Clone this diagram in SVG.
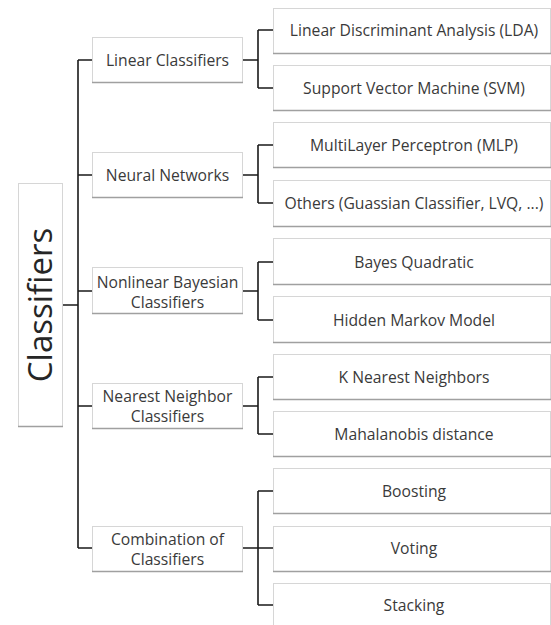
<svg xmlns="http://www.w3.org/2000/svg" width="551" height="625" viewBox="0 0 551 625">
<style>
.box{fill:#fff;stroke:#d6d6d6;stroke-width:1}
.sh{stroke:#a0a0a0;stroke-width:1.6}
.t{font-family:"Open Sans","Noto Sans",sans-serif;font-size:15.7px;fill:#3a3a3a;text-anchor:middle}
.root{font-family:"Open Sans","Noto Sans",sans-serif;font-size:33px;fill:#262626;text-anchor:middle}
.c{fill:none;stroke:#1a1a1a;stroke-width:1.6}
</style>
<rect width="551" height="625" fill="#fff"/>
<g id="connectors">
<path class="c" d="M63 305H78M78 60V548M78 60H92M78 175H92M78 291H92M78 406H92M78 548H92"/>
<path class="c" d="M243 60H258M258 30V88M258 30H273M258 88H273"/>
<path class="c" d="M243 175H258M258 145V203M258 145H273M258 203H273"/>
<path class="c" d="M243 291H258M258 262V320M258 262H273M258 320H273"/>
<path class="c" d="M243 406H258M258 377V434M258 377H273M258 434H273"/>
<path class="c" d="M243 548H273M258 491V605M258 491H273M258 605H273"/>
</g>
<g id="root">
<rect class="box" x="18.5" y="183.5" width="44" height="243"/>
<line class="sh" x1="18" y1="426.5" x2="63" y2="426.5"/>
<text class="root" transform="translate(52,305) rotate(-90)">Classifiers</text>
</g>
<g id="n-linear">
<rect class="box" x="92.5" y="37.5" width="150" height="45"/><line class="sh" x1="92" y1="82.5" x2="243" y2="82.5"/>
<text class="t" x="167.5" y="65.5">Linear Classifiers</text>
</g>
<g id="n-neural">
<rect class="box" x="92.5" y="152.5" width="150" height="45"/><line class="sh" x1="92" y1="197.5" x2="243" y2="197.5"/>
<text class="t" x="167.5" y="180.5">Neural Networks</text>
</g>
<g id="n-bayes">
<rect class="box" x="92.5" y="267.5" width="150" height="46"/><line class="sh" x1="92" y1="313.5" x2="243" y2="313.5"/>
<text class="t" x="167.5" y="287.5">Nonlinear Bayesian</text>
<text class="t" x="167.5" y="307.5">Classifiers</text>
</g>
<g id="n-nn">
<rect class="box" x="92.5" y="383.5" width="150" height="45"/><line class="sh" x1="92" y1="428.5" x2="243" y2="428.5"/>
<text class="t" x="167.5" y="401.5">Nearest Neighbor</text>
<text class="t" x="167.5" y="421.5">Classifiers</text>
</g>
<g id="n-comb">
<rect class="box" x="92.5" y="526.5" width="150" height="45"/><line class="sh" x1="92" y1="571.5" x2="243" y2="571.5"/>
<text class="t" x="167.5" y="544.5">Combination of</text>
<text class="t" x="167.5" y="564.5">Classifiers</text>
</g>
<g id="l-lda">
<rect class="box" x="273.5" y="8.5" width="277" height="45"/><line class="sh" x1="273" y1="53.5" x2="551" y2="53.5"/>
<text class="t" x="414" y="35.5">Linear Discriminant Analysis (LDA)</text>
</g>
<g id="l-svm">
<rect class="box" x="273.5" y="65.5" width="277" height="45"/><line class="sh" x1="273" y1="110.5" x2="551" y2="110.5"/>
<text class="t" x="414" y="93.5">Support Vector Machine (SVM)</text>
</g>
<g id="l-mlp">
<rect class="box" x="273.5" y="122.5" width="277" height="45"/><line class="sh" x1="273" y1="167.5" x2="551" y2="167.5"/>
<text class="t" x="414" y="150.5">MultiLayer Perceptron (MLP)</text>
</g>
<g id="l-others">
<rect class="box" x="273.5" y="180.5" width="277" height="46"/><line class="sh" x1="273" y1="226.5" x2="551" y2="226.5"/>
<text class="t" x="414" y="208.5">Others (Guassian Classifier, LVQ, ...)</text>
</g>
<g id="l-bq">
<rect class="box" x="273.5" y="238.5" width="277" height="46"/><line class="sh" x1="273" y1="284.5" x2="551" y2="284.5"/>
<text class="t" x="414" y="267.5">Bayes Quadratic</text>
</g>
<g id="l-hmm">
<rect class="box" x="273.5" y="296.5" width="277" height="46"/><line class="sh" x1="273" y1="342.5" x2="551" y2="342.5"/>
<text class="t" x="414" y="325.5">Hidden Markov Model</text>
</g>
<g id="l-knn">
<rect class="box" x="273.5" y="354.5" width="277" height="45"/><line class="sh" x1="273" y1="399.5" x2="551" y2="399.5"/>
<text class="t" x="414" y="382.5">K Nearest Neighbors</text>
</g>
<g id="l-maha">
<rect class="box" x="273.5" y="411.5" width="277" height="45"/><line class="sh" x1="273" y1="456.5" x2="551" y2="456.5"/>
<text class="t" x="414" y="439.5">Mahalanobis distance</text>
</g>
<g id="l-boost">
<rect class="box" x="273.5" y="468.5" width="277" height="45"/><line class="sh" x1="273" y1="513.5" x2="551" y2="513.5"/>
<text class="t" x="414" y="496.5">Boosting</text>
</g>
<g id="l-vote">
<rect class="box" x="273.5" y="526.5" width="277" height="45"/><line class="sh" x1="273" y1="571.5" x2="551" y2="571.5"/>
<text class="t" x="414" y="553.5">Voting</text>
</g>
<g id="l-stack">
<rect class="box" x="273.5" y="583.5" width="277" height="45"/>
<text class="t" x="414" y="610.5">Stacking</text>
</g>
</svg>
